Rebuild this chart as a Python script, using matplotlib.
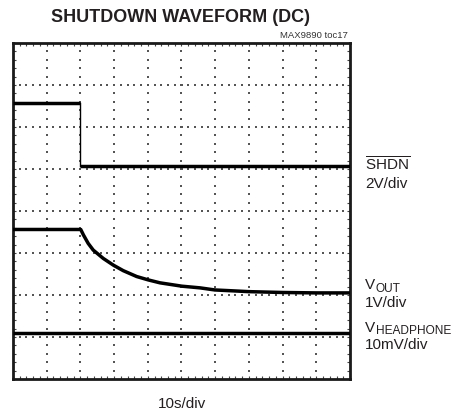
import numpy as np
import matplotlib
matplotlib.use("Agg")
import matplotlib.pyplot as plt
from matplotlib.transforms import offset_copy

plt.rcParams['font.family'] = ['Liberation Sans', 'DejaVu Sans']
plt.rcParams['mathtext.fontset'] = 'custom'
plt.rcParams['mathtext.rm'] = 'Liberation Sans'
plt.rcParams['mathtext.it'] = 'Liberation Sans'
plt.rcParams['mathtext.bf'] = 'Liberation Sans:bold'

# ---- data (time in divisions, level in screen divisions from bottom) ----
shdn_t = [0.0, 2.0, 2.0, 10.0]
shdn_v = [6.58, 6.58, 5.08, 5.08]

vout_t = [0.0, 2.01, 2.09, 2.23, 2.38, 2.68, 2.98, 3.27, 3.67, 4.01, 4.36,
          5.01, 5.55, 5.99, 6.5, 7.0, 8.0, 9.0, 10.0]
vout_v = [3.56, 3.56, 3.43, 3.23, 3.07, 2.87, 2.71, 2.58, 2.44, 2.36, 2.29,
          2.21, 2.17, 2.12, 2.10, 2.08, 2.06, 2.05, 2.05]

vhp_t = [0.0, 10.0]
vhp_v = [1.10, 1.10]

title = "SHUTDOWN WAVEFORM (DC)"
tag = "MAX9890 toc17"
xlabel = "10s/div"

W, H = 460, 416
fig = plt.figure(figsize=(W/100, H/100), dpi=100)
ax = fig.add_axes([13/W, 1-379/H, 337/W, 336/H])
ax.set_xlim(0, 10)
ax.set_ylim(0, 8)

ink = '#231f20'
# dotted graticule
for gx in range(1, 10):
    ys = np.arange(0.2, 8, 0.2)
    ax.scatter(np.full_like(ys, gx), ys, s=0.9, marker='s', color='#555', linewidths=0, zorder=1)
for gy in range(1, 8):
    xs = np.arange(0.2, 10, 0.2)
    ax.scatter(xs, np.full_like(xs, gy), s=0.9, marker='s', color='#555', linewidths=0, zorder=1)

# traces
lw = 2.5
ax.plot(shdn_t[:2], shdn_v[:2], color='black', lw=lw, zorder=3, solid_capstyle='butt')
ax.plot(shdn_t[1:3], shdn_v[1:3], color='black', lw=1.0, zorder=3)
ax.plot(shdn_t[2:], shdn_v[2:], color='black', lw=lw, zorder=3, solid_capstyle='butt')
ax.plot(vout_t, vout_v, color='black', lw=lw, zorder=3, solid_capstyle='butt', solid_joinstyle='round')
ax.plot(vhp_t, vhp_v, color='black', lw=lw, zorder=3, solid_capstyle='butt')

# frame + inward ticks
for s in ax.spines.values():
    s.set_linewidth(2.0)
    s.set_color('#1a1a1a')
ax.set_xticks(np.arange(0, 11, 1))
ax.set_yticks(np.arange(0, 9, 1))
ax.set_xticks(np.arange(0, 10.01, 0.2), minor=True)
ax.set_yticks(np.arange(0, 8.01, 0.2), minor=True)
ax.tick_params(which='both', direction='in', top=True, right=True,
               labelbottom=False, labelleft=False, color='#444')
ax.tick_params(which='major', length=2.5, width=0.8)
ax.tick_params(which='minor', length=2.0, width=0.8)

# texts
fig.text(181/W, 1-22.5/H, title, ha='center', va='baseline', fontsize=13,
         fontweight='bold', color=ink)
fig.text(348/W, 1-38/H, tag, ha='right', va='baseline', fontsize=6.8, color='#333')
fig.text(182/W, 1-408/H, xlabel, ha='center', va='baseline', fontsize=11, color=ink)

lx = 365/W
fs = 11
fig.text(lx, 1-171/H, r"$\overline{\mathregular{SHDN}}$", ha='left', va='baseline', fontsize=fs, color=ink)
fig.text(lx, 1-188/H, "2V/div", ha='left', va='baseline', fontsize=fs, color=ink)
fig.text(lx, 1-307/H, "1V/div", ha='left', va='baseline', fontsize=fs, color=ink)
fig.text(lx, 1-349/H, "10mV/div", ha='left', va='baseline', fontsize=fs, color=ink)

fig.canvas.draw()
renderer = fig.canvas.get_renderer()
for base_y, sub in [(289, "OUT"), (332, "HEADPHONE")]:
    tv = fig.text(lx, 1-base_y/H, "V", ha='left', va='baseline', fontsize=fs, color=ink)
    bb = tv.get_window_extent(renderer)
    fig.text(bb.x1/W + 0.5/W, 1-(base_y+2.5)/H, sub, ha='left', va='baseline',
             fontsize=8.6, color=ink)

fig.savefig("out.png", dpi=100)
